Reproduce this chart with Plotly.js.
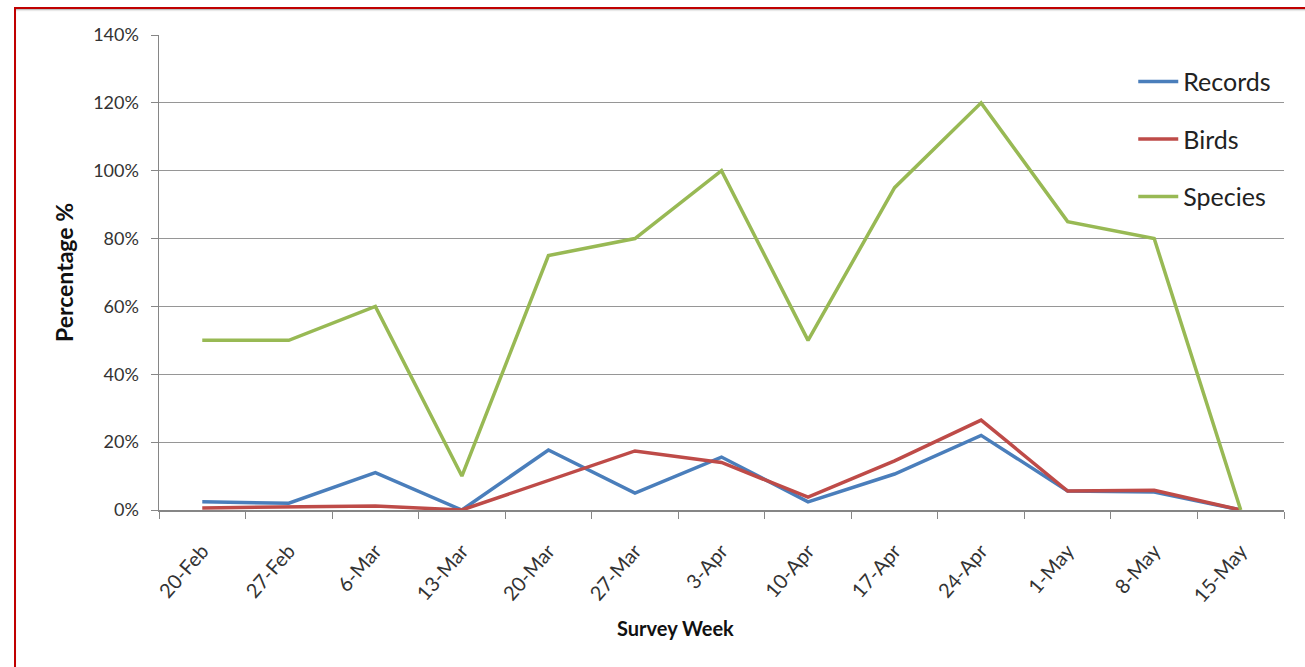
<!DOCTYPE html>
<html>
<head>
<meta charset="utf-8">
<script src="https://cdn.plot.ly/plotly-3.0.1.min.js"></script>
<style>
html,body{margin:0;padding:0;background:#fff;overflow:hidden;}
#frame{position:absolute;left:14px;top:7px;width:1400px;height:700px;border-left:2px solid #c00000;border-top:2px solid #c00000;box-shadow:-1px 1px 2px #aaa inset;}
#chart{position:absolute;left:0;top:0;width:1305px;height:667px;}
</style>
</head>
<body>
<div id="frame"></div>
<div id="chart"></div>
<script>
const weeks = ["20-Feb","27-Feb","6-Mar","13-Mar","20-Mar","27-Mar","3-Apr","10-Apr","17-Apr","24-Apr","1-May","8-May","15-May"];
const records = [2.4, 2.0, 11.0, 0, 17.7, 5.0, 15.6, 2.4, 10.6, 22.0, 5.6, 5.3, 0];
const birds = [0.6, 0.9, 1.2, 0, 8.8, 17.4, 14.0, 3.8, 14.5, 26.5, 5.6, 5.8, 0];
const species = [50, 50, 60, 10, 75, 80, 100, 50, 95, 120, 85, 80, 0];
const yTicks = [0, 20, 40, 60, 80, 100, 120, 140];
const yTickText = yTicks.map(v => v + "%");
const xTitle = "Survey Week";
const yTitle = "Percentage %";

const font = "Lato, 'Liberation Sans', sans-serif";
const mk = (name, y, color) => ({
  type: "scatter", mode: "lines", name: name, x: weeks, y: y,
  legendgroup: name,
  line: {color: color, width: 3.5}
});
const data = [
  mk("Records", records, "#4a7ebb"),
  mk("Birds", birds, "#be4b48"),
  mk("Species", species, "#98b954")
];
const layout = {
  width: 1305, height: 667,
  paper_bgcolor: "rgba(0,0,0,0)", plot_bgcolor: "rgba(0,0,0,0)",
  margin: {l: 159, r: 21, t: 35, b: 157},
  showlegend: true,
  legend: {x: 0.866, y: 0.95, xanchor: "left", yanchor: "top",
    bgcolor: "rgba(0,0,0,0)", font: {family: font, size: 25, color: "#222"},
    tracegroupgap: 22, itemwidth: 40},
  xaxis: {
    type: "category", tickson: "boundaries", ticks: "outside", ticklen: 7,
    tickcolor: "#868686", showline: true, linecolor: "#868686", linewidth: 1.5,
    showgrid: false, tickangle: -49, ticklabelstandoff: 20,
    tickfont: {family: font, size: 20, color: "#333"},
    range: [-0.5, 12.5]
  },
  yaxis: {
    range: [0, 140], tickvals: yTicks, ticktext: yTickText,
    ticks: "outside", ticklen: 7, tickcolor: "#868686", ticklabelstandoff: 8,
    showline: true, linecolor: "#868686", linewidth: 1.5,
    showgrid: true, gridcolor: "#969696", gridwidth: 1.2, zeroline: false,
    tickfont: {family: font, size: 18, color: "#333"},
    title: {text: "<b>" + yTitle + "</b>", font: {family: font, size: 23, color: "#111"}, standoff: 13}
  },
  annotations: [{
    text: "<b>" + xTitle + "</b>", xref: "paper", yref: "paper",
    x: 0.4587, y: -0.248, xanchor: "center", yanchor: "middle", showarrow: false,
    font: {family: font, size: 20, color: "#111"}
  }]
};
Plotly.newPlot("chart", data, layout, {displayModeBar: false, staticPlot: true});
</script>
</body>
</html>
